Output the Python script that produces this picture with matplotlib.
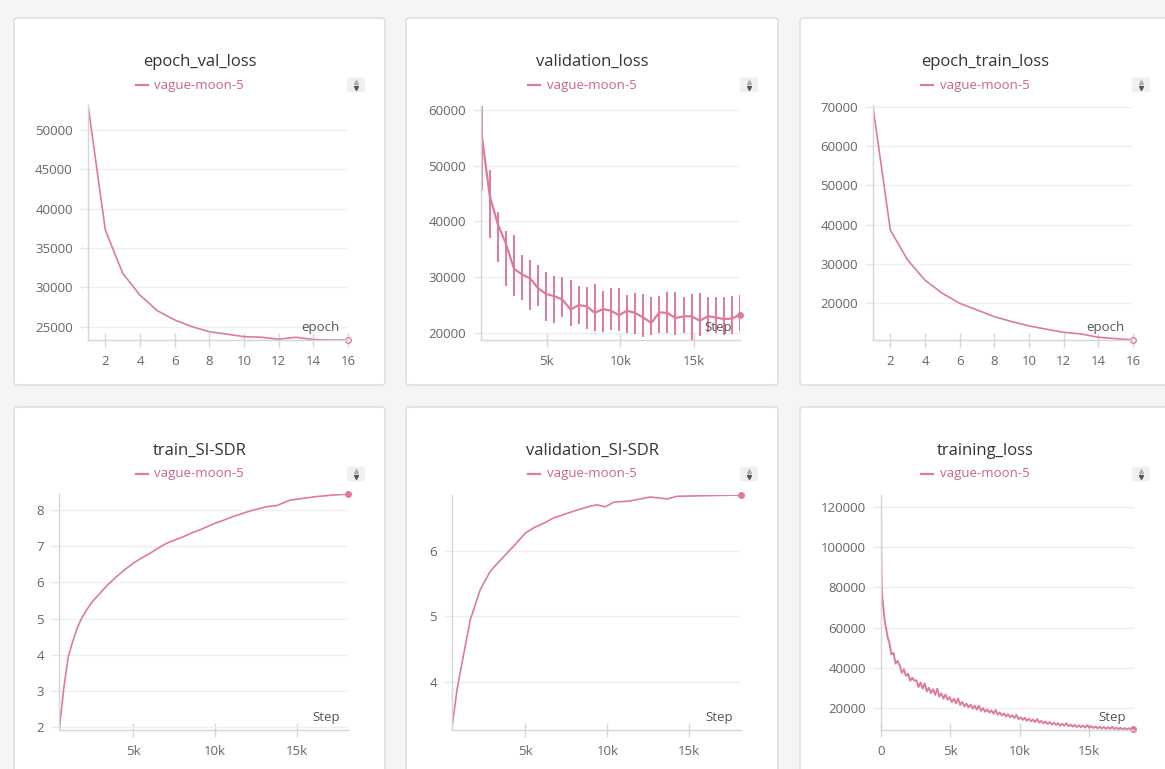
import numpy as np
import matplotlib
matplotlib.use('Agg')
import matplotlib.pyplot as plt
from matplotlib.patches import FancyBboxPatch
from matplotlib.lines import Line2D

plt.rcParams['font.family'] = ['Open Sans', 'DejaVu Sans']

W, H = 1165, 769
RUN = 'vague-moon-5'
PINK = '#de7aa0'
TICK_GRAY = '#666666'

# per-epoch summaries
epochs = list(range(1, 17))
epoch_val_loss = [53200, 37300, 31800, 29000, 27030, 25850, 25000, 24350,
                  24050, 23730, 23650, 23400, 23650, 23350, 23300, 23300]
epoch_train_loss = [70000, 38640, 31000, 25900, 22540, 20000, 18300, 16600,
                    15340, 14240, 13400, 12600, 12200, 11350, 11000, 10680]

# validation loss per step (mean with min/max band)
val_steps = [588, 1136, 1684, 2232, 2780, 3328, 3876, 4424, 4972, 5520, 6068,
             6616, 7164, 7712, 8260, 8808, 9356, 9904, 10452, 11000, 11548,
             12096, 12644, 13192, 13740, 14288, 14836, 15384, 15932, 16480,
             17028, 17576, 18124]
val_loss_mean = [55500, 44500, 39500, 36000, 31500, 30500, 29800, 28000, 27000,
                 26600, 26000, 24200, 25000, 24800, 23600, 24300, 24000, 23200,
                 24000, 23600, 22800, 21800, 23700, 23600, 22700, 23000, 23000,
                 22200, 23000, 22800, 22500, 22600, 23300]
val_loss_min = [45700, 37000, 32800, 28500, 26700, 26000, 24200, 24800, 22200,
                21800, 22900, 21200, 21700, 20700, 20300, 20200, 20500, 20400,
                20000, 19800, 19200, 19600, 20000, 20000, 19700, 20000, 18700,
                19400, 20100, 20000, 19700, 19900, 20400]
val_loss_max = [60700, 49200, 41700, 38300, 37600, 34000, 33100, 32200, 30900,
                30200, 30000, 29500, 28500, 28300, 28700, 27500, 28000, 28000,
                26800, 27200, 27000, 26500, 26600, 27300, 27300, 26500, 27000,
                27100, 26500, 26500, 26400, 26700, 26800]

# SI-SDR curves
train_sdr_steps = [470, 750, 1020, 1280, 1530, 1800, 2140, 2500, 2960, 3450,
                   3980, 4500, 5000, 5500, 6020, 6500, 7040, 7550, 8060, 8550,
                   9080, 10000, 10550, 11120, 11600, 12140, 12650, 13160,
                   13780, 14200, 14590, 15400, 16220, 17200, 18160]
train_sdr = [1.95, 3.10, 3.95, 4.35, 4.69, 4.98, 5.24, 5.47, 5.70, 5.94,
             6.16, 6.36, 6.53, 6.67, 6.80, 6.94, 7.08, 7.17, 7.26, 7.36,
             7.45, 7.63, 7.72, 7.82, 7.89, 7.97, 8.03, 8.09,
             8.12, 8.20, 8.27, 8.32, 8.37, 8.41, 8.44]

val_sdr_steps = [528, 833, 1138, 1646, 2256, 2866, 3679, 4289, 5000, 5508,
                 6118, 6728, 7541, 8150, 8963, 9370, 9878, 10386, 11402,
                 12622, 13638, 14248, 16077, 18150]
val_sdr = [3.30, 3.88, 4.29, 4.95, 5.41, 5.69, 5.91, 6.07, 6.27, 6.35,
           6.42, 6.50, 6.57, 6.62, 6.68, 6.70, 6.67, 6.74, 6.76,
           6.82, 6.79, 6.83, 6.84, 6.85]

# training loss: dense warm-up, then logged every 150 steps
train_loss_steps = [0, 20, 50, 100, 170, 250, 330, 410, 490] + list(range(600, 18151, 150))
train_loss = [125800, 97000, 81000, 74500, 70000, 64500, 61000, 58000, 55000,
              52500, 46800, 47500, 42200, 43600, 41200, 37600, 39400, 36100, 37200,
              33700, 35200, 33800, 33900, 30600, 32800, 29800, 32400, 28400, 30200,
              27600, 29500, 26700, 29800, 25900, 27400, 24800, 26900, 24300, 25600,
              23100, 24800, 22500, 24900, 21700, 23200, 21000, 22400, 20500, 21900,
              19900, 21300, 19400, 21300, 18800, 20100, 18300, 19500, 17900, 19000,
              17400, 19200, 16900, 18000, 16500, 17500, 16000, 17100, 15600, 16600,
              15200, 16800, 14700, 15600, 14300, 15300, 13900, 14900, 13600, 14500,
              13200, 14700, 12900, 13800, 12600, 13500, 12300, 13200, 12000, 12900,
              11800, 12700, 11500, 12400, 11400, 12700, 11100, 12000, 11000, 11800,
              10800, 11600, 10700, 11500, 10500, 11700, 10400, 11200, 10300, 11000,
              10100, 10900, 10000, 10800, 9900, 10700, 9850, 10900, 9750, 10500,
              9700, 10400, 9600, 10300, 9550, 10200, 9500, 9700]


def fx(x):
    return x / W


def fy(y):
    return 1 - y / H


def k_fmt(v):
    return '0' if v == 0 else f'{int(v / 1000)}k'


fig = plt.figure(figsize=(W / 100, H / 100), dpi=100)
fig.patch.set_facecolor('#f5f5f5')

cards = [(14, 18, 385, 385), (406, 18, 778, 385), (800, 18, 1170, 385),
         (14, 407, 385, 780), (406, 407, 778, 780), (800, 407, 1170, 780)]
titles = ['epoch_val_loss', 'validation_loss', 'epoch_train_loss',
          'train_SI-SDR', 'validation_SI-SDR', 'training_loss']

for (x0, y0, x1, y1), title in zip(cards, titles):
    card = FancyBboxPatch((fx(x0), fy(y1)), fx(x1 - x0), (y1 - y0) / H,
                          boxstyle='round,pad=0,rounding_size=0.004',
                          transform=fig.transFigure, facecolor='white',
                          edgecolor='#dcdcdc', linewidth=1.0, zorder=0)
    fig.add_artist(card)
    cx = (x0 + x1) / 2
    fig.text(fx(cx), fy(y0 + 44), title, ha='center', va='center',
             fontsize=12, color='#333333')
    # legend entry
    ly = y0 + 67
    lc = cx - 9
    fig.add_artist(Line2D([fx(lc - 55), fx(lc - 43)], [fy(ly), fy(ly)],
                          transform=fig.transFigure, color=PINK, lw=1.6))
    fig.text(fx(lc - 36), fy(ly), RUN, ha='left', va='center',
             fontsize=9.5, color='#c8658c')
    # sort toggle icon
    ix = x1 - 29
    box = FancyBboxPatch((fx(ix - 9), fy(ly + 7.5)), fx(18), 15 / H,
                         boxstyle='round,pad=0,rounding_size=0.002',
                         transform=fig.transFigure, facecolor='#f0f0f0',
                         edgecolor='none')
    fig.add_artist(box)
    fig.add_artist(Line2D([fx(ix)], [fy(ly - 3)], marker='^', ms=2.8, lw=0,
                          color='#b0b0b0', transform=fig.transFigure))
    fig.add_artist(Line2D([fx(ix)], [fy(ly + 3)], marker='v', ms=2.8, lw=0,
                          color='#555555', transform=fig.transFigure))


def make_axes(x0, y0, x1, y1):
    ax = fig.add_axes([fx(x0), fy(y1), fx(x1 - x0), (y1 - y0) / H])
    ax.set_facecolor('none')
    for s in ('top', 'right'):
        ax.spines[s].set_visible(False)
    for s in ('left', 'bottom'):
        ax.spines[s].set_color('#d6d6d6')
        ax.spines[s].set_linewidth(1.0)
    ax.tick_params(axis='y', direction='out', length=6, width=1,
                   color='#e8e8e8', labelcolor=TICK_GRAY, labelsize=9.5, pad=5)
    ax.tick_params(axis='x', direction='inout', length=10, width=1,
                   color='#d6d6d6', labelcolor=TICK_GRAY, labelsize=9.5, pad=6)
    ax.grid(axis='y', color='#efefef', linewidth=1)
    ax.set_axisbelow(True)
    return ax


def corner_label(ax, text):
    ax.annotate(text, xy=(1, 0), xycoords='axes fraction', xytext=(-6, 4),
                textcoords='offset points', ha='right', va='bottom',
                fontsize=9.5, color='#555555')


# epoch_val_loss
ax = make_axes(88, 105, 348, 340)
ax.plot(epochs, epoch_val_loss, color=PINK, lw=1.2)
ax.plot(epochs[-1], epoch_val_loss[-1], 'o', ms=4, mfc='white', mec=PINK,
        mew=1, clip_on=False)
ax.set_xlim(1, 16)
ax.set_ylim(23300, 53200)
ax.set_xticks(range(2, 17, 2))
ax.set_yticks(range(25000, 50001, 5000))
corner_label(ax, 'epoch')

# validation_loss
ax = make_axes(481, 106, 740, 340)
ax.vlines(val_steps, val_loss_min, val_loss_max, color=PINK, lw=1.4)
ax.plot(val_steps, val_loss_mean, color=PINK, lw=1.6)
ax.plot(val_steps[-1], val_loss_mean[-1], 'o', ms=4, color=PINK, clip_on=False)
ax.set_xlim(540, 18120)
ax.set_ylim(18750, 60700)
ax.set_xticks([5000, 10000, 15000])
ax.set_xticklabels([k_fmt(v) for v in [5000, 10000, 15000]])
ax.set_yticks(range(20000, 60001, 10000))
corner_label(ax, 'Step')

# epoch_train_loss
ax = make_axes(873, 105, 1133, 340)
ax.plot(epochs, epoch_train_loss, color=PINK, lw=1.2)
ax.plot(epochs[-1], epoch_train_loss[-1], 'o', ms=4, mfc='white', mec=PINK,
        mew=1, clip_on=False)
ax.set_xlim(1, 16)
ax.set_ylim(10650, 70500)
ax.set_xticks(range(2, 17, 2))
ax.set_yticks(range(20000, 70001, 10000))
corner_label(ax, 'epoch')

# train_SI-SDR
ax = make_axes(59, 494, 348, 730)
ax.plot(train_sdr_steps, train_sdr, color=PINK, lw=1.2)
ax.plot(train_sdr_steps[-1], train_sdr[-1], 'o', ms=4, color=PINK, clip_on=False)
ax.set_xlim(450, 18140)
ax.set_ylim(1.92, 8.44)
ax.set_xticks([5000, 10000, 15000])
ax.set_xticklabels([k_fmt(v) for v in [5000, 10000, 15000]])
ax.set_yticks(range(2, 9))
corner_label(ax, 'Step')

# validation_SI-SDR
ax = make_axes(452, 495, 741, 730)
ax.plot(val_sdr_steps, val_sdr, color=PINK, lw=1.2)
ax.plot(val_sdr_steps[-1], val_sdr[-1], 'o', ms=4, color=PINK, clip_on=False)
ax.set_xlim(530, 18150)
ax.set_ylim(3.27, 6.85)
ax.set_xticks([5000, 10000, 15000])
ax.set_xticklabels([k_fmt(v) for v in [5000, 10000, 15000]])
ax.set_yticks([4, 5, 6])
corner_label(ax, 'Step')

# training_loss
ax = make_axes(881, 495, 1134, 730)
ax.plot(train_loss_steps, train_loss, color=PINK, lw=1.4)
ax.plot(train_loss_steps[-1], train_loss[-1], 'o', ms=4, color=PINK, clip_on=False)
ax.set_xlim(0, 18220)
ax.set_ylim(9300, 125800)
ax.set_xticks([0, 5000, 10000, 15000])
ax.set_xticklabels([k_fmt(v) for v in [0, 5000, 10000, 15000]])
ax.set_yticks(range(20000, 120001, 20000))
corner_label(ax, 'Step')

fig.savefig('out.png', dpi=100, facecolor=fig.get_facecolor())
